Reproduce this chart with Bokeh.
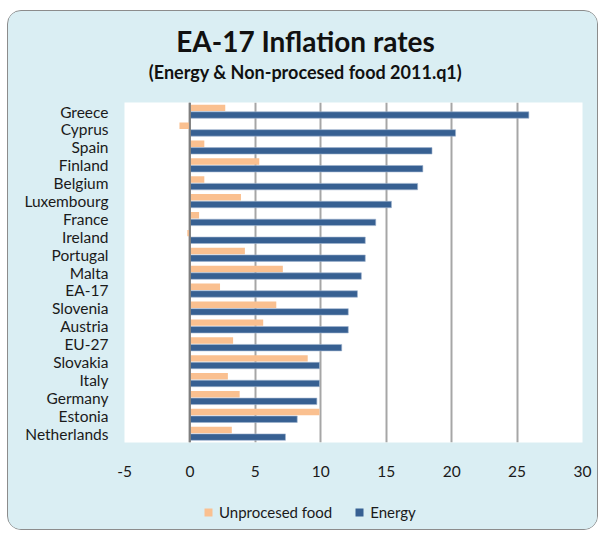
from bokeh.plotting import figure
from bokeh.layouts import column
from bokeh.models import (Range1d, FactorRange, FixedTicker, Span, Label, Legend, LegendItem,
                          ColumnDataSource)
from bokeh.transform import dodge
from bokeh.embed import file_html
from bokeh.resources import INLINE

countries = ["Greece", "Cyprus", "Spain", "Finland", "Belgium", "Luxembourg", "France",
             "Ireland", "Portugal", "Malta", "EA-17", "Slovenia", "Austria", "EU-27",
             "Slovakia", "Italy", "Germany", "Estonia", "Netherlands"]
food = [2.7, -0.8, 1.1, 5.3, 1.1, 3.9, 0.7, -0.2, 4.2, 7.1, 2.3, 6.6, 5.6, 3.3, 9.0, 2.9, 3.8, 9.9, 3.2]
energy = [25.9, 20.3, 18.5, 17.8, 17.4, 15.4, 14.2, 13.4, 13.4, 13.1, 12.8, 12.1, 12.1, 11.6,
          9.9, 9.9, 9.7, 8.2, 7.3]
x_ticks = [-5, 0, 5, 10, 15, 20, 25, 30]
x_tick_labels = ["-5", "0", "5", "10", "15", "20", "25", "30"]

title_text = "EA-17 Inflation rates"
subtitle_text = "(Energy & Non-procesed food 2011.q1)"
series_names = ["Unprocesed food", "Energy"]

FONT = "Lato"
BG = "#DAEEF3"
ORANGE = "#FAC090"
BLUE = "#376092"
W = 589

src = ColumnDataSource(dict(country=countries, food=food, energy=energy))


def strip(height, y_range):
    f = figure(width=W, height=height, output_backend="svg", toolbar_location=None, title=None,
               x_range=Range1d(0, 1), y_range=y_range,
               min_border_left=0, min_border_right=0, min_border_top=0, min_border_bottom=0)
    f.border_fill_color = BG
    f.background_fill_color = BG
    f.outline_line_color = None
    f.axis.visible = False
    f.grid.visible = False
    return f


# header strip with title and subtitle
hd = strip(91, Range1d(0, 1))
hd.add_layout(Label(x=181, y=62, x_units="screen", y_units="screen", text=title_text,
                    text_font=FONT, text_font_size="28px", text_font_style="bold",
                    text_align="center", text_baseline="middle", text_color="#111111"))
hd.add_layout(Label(x=181, y=31, x_units="screen", y_units="screen", text=subtitle_text,
                    text_font=FONT, text_font_size="18px", text_font_style="bold",
                    text_align="center", text_baseline="middle", text_color="#111111"))

# main chart
p = figure(width=W, height=397, output_backend="svg", toolbar_location=None, title=None,
           x_range=Range1d(-5, 30), y_range=FactorRange(*reversed(countries)),
           min_border_left=116, min_border_right=15, min_border_top=0, min_border_bottom=57)
p.border_fill_color = BG
p.background_fill_color = "white"
p.outline_line_color = None

r_food = p.hbar(y=dodge("country", 0.2, range=p.y_range), left=0, right="food", height=0.36,
                source=src, fill_color=ORANGE, line_color=None)
r_en = p.hbar(y=dodge("country", -0.2, range=p.y_range), left=0, right="energy", height=0.36,
              source=src, fill_color=BLUE, line_color="#9fb4cf", line_width=0.6)

p.xaxis.ticker = FixedTicker(ticks=x_ticks)
p.xaxis.major_label_overrides = {t: s for t, s in zip(x_ticks, x_tick_labels)}
p.xgrid.ticker = FixedTicker(ticks=x_ticks)
p.xgrid.grid_line_color = "#A6A6A6"
p.xgrid.grid_line_width = 2
p.ygrid.grid_line_color = None
p.add_layout(Span(location=0, dimension="height", line_color="#7f7f7f", line_width=2))

for ax in (p.xaxis, p.yaxis):
    ax.axis_line_color = None
    ax.major_tick_line_color = None
    ax.minor_tick_line_color = None
    ax.major_tick_out = 0
    ax.major_tick_in = 0
    ax.major_label_text_font = FONT
    ax.major_label_text_font_size = "15.5px"
    ax.major_label_text_color = "#1a1a1a"
p.xaxis.major_label_standoff = 23
p.yaxis.major_label_standoff = 16
p.y_range.range_padding = 0

# legend strip (hidden renderers only supply the legend swatches)
lg = strip(30, FactorRange(*countries))
l_food = lg.hbar(y="country", left=0, right="food", height=0.5, source=src,
                 fill_color=ORANGE, line_color=None, visible=False)
l_en = lg.hbar(y="country", left=0, right="energy", height=0.5, source=src,
               fill_color=BLUE, line_color=None, visible=False)
legend = Legend(items=[LegendItem(label=series_names[0], renderers=[l_food]),
                       LegendItem(label=series_names[1], renderers=[l_en])],
                location=(79, 8), orientation="horizontal")
legend.background_fill_alpha = 0
legend.border_line_color = None
legend.inactive_fill_alpha = 0
legend.padding = 0
legend.margin = 0
legend.spacing = 22
legend.glyph_width = 10
legend.glyph_height = 10
legend.label_standoff = 6
legend.label_text_font = FONT
legend.label_text_font_size = "15px"
legend.label_text_color = "#1a1a1a"
lg.add_layout(legend, "center")

layout = column(hd, p, lg, spacing=0)
layout.margin = (10, 0, 0, 7)
layout.styles = {"border": "1px solid #8c8c8c", "border-radius": "14px", "overflow": "hidden",
                 "background-color": BG}

open("out.html", "w").write(file_html(layout, INLINE))
